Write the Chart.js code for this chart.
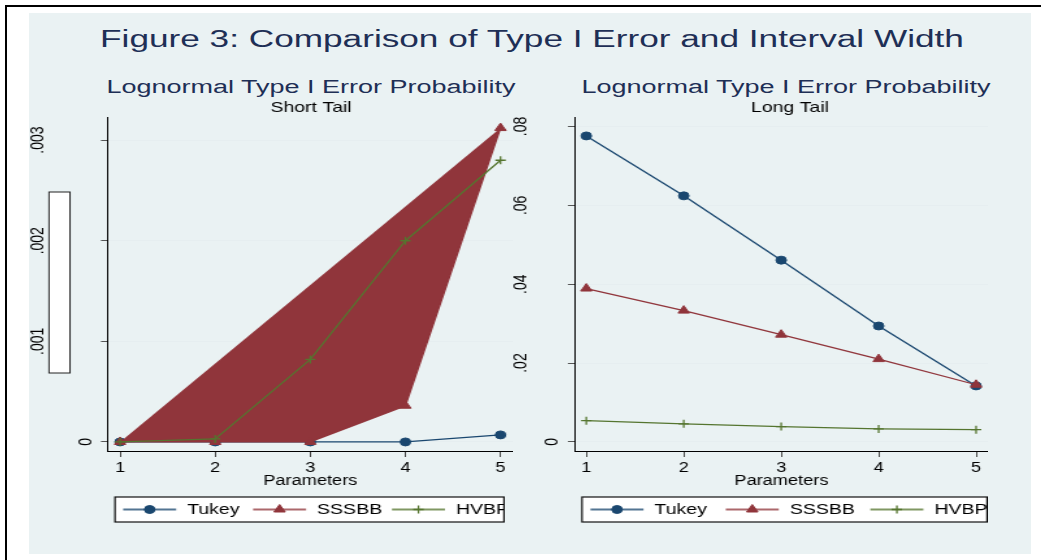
<!DOCTYPE html>
<html>
<head>
<meta charset="utf-8">
<script src="https://cdn.jsdelivr.net/npm/chart.js@4.4.1/dist/chart.umd.min.js"></script>
<style>
  html, body { margin: 0; padding: 0; background: #fff; }
  body { width: 1041px; height: 560px; position: relative; overflow: hidden; font-family: 'Liberation Sans', Arial, sans-serif; }
  .frame { position: absolute; left: 5px; top: 5px; right: 0; bottom: 0; border-left: 2px solid #000; border-top: 2px solid #000; }
  .bg { position: absolute; left: 29px; top: 13px; width: 1002px; height: 541px; background: #eaf2f3; }
  .title { position: absolute; white-space: nowrap; line-height: 1; color: #1e2f56; transform-origin: 50% 50%; }
  .main-title { left: 532px; top: 28px; font-size: 23px; transform: translateX(-50%) scaleX(1.53); }
  .sub-title { top: 78px; font-size: 18px; transform: translateX(-50%) scaleX(1.5); }
  .panel { position: absolute; top: 99px; transform: scaleX(1.3); transform-origin: 0 0; }
</style>
</head>
<body>
<div class="frame"></div>
<div class="bg"></div>
<div class="title main-title">Figure 3: Comparison of Type I Error and Interval Width</div>
<div class="title sub-title" style="left:311px">Lognormal Type I Error Probability</div>
<div class="title sub-title" style="left:786px">Lognormal Type I Error Probability</div>
<div class="panel" style="left:29px"><canvas id="shortChart" width="372" height="455"></canvas></div>
<div class="panel" style="left:512px"><canvas id="longChart" width="366" height="455"></canvas></div>

<script>
const parameters = [1, 2, 3, 4, 5];
const xTicks = [1, 2, 3, 4, 5];
const seriesNames = ['Tukey', 'SSSBB', 'HVBP'];

// Short tail
const shortTukey = [0, 0, 0, 0, 0.00007];
const shortSSSBB = [0, 0, 0, 0.00036, 0.00312];
const shortHVBP = [0, 0.00003, 0.00082, 0.002, 0.0028];
const shortYTicks = [0, 0.001, 0.002, 0.003];
const shortYLabels = ['0', '.001', '.002', '.003'];

// Long tail
const longTukey = [0.0776, 0.0624, 0.0461, 0.0294, 0.0142];
const longSSSBB = [0.0389, 0.0333, 0.0272, 0.0210, 0.0145];
const longHVBP = [0.0054, 0.0046, 0.0039, 0.0033, 0.0031];
const longYTicks = [0, 0.02, 0.04, 0.06, 0.08];
const longYLabels = ['0', '.02', '.04', '.06', '.08'];

const S = 1.3; // horizontal stretch applied to the panels
const FONT = "'Liberation Sans', Arial, sans-serif";
Chart.defaults.font.family = FONT;
Chart.defaults.color = '#000';

const colors = ['#1a476f', '#90353b', '#55752f'];
const markers = ['circle', 'triangle', 'cross'];
const radii = [4, 5, 4];

function makeDatasets(series, fillIndex) {
    return series.map((vals, i) => ({
        label: seriesNames[i],
        data: parameters.map((p, j) => ({ x: p, y: vals[j] })),
        borderColor: colors[i],
        backgroundColor: colors[i],
        borderWidth: 1.3,
        pointStyle: markers[i],
        pointRadius: radii[i],
        pointBorderWidth: i === 2 ? 1.3 : 1,
        pointBackgroundColor: colors[i],
        pointBorderColor: colors[i],
        tension: 0,
        fill: i === fillIndex ? 'shape' : false,
        order: 3 - i
    }));
}

// subtitle, rotated y labels, empty title box and the boxed legend
const decor = {
    id: 'decor',
    afterDraw(chart, args, o) {
        const ctx = chart.ctx;
        const area = chart.chartArea;
        const ix = x => (x - o.left) / S;
        ctx.save();
        ctx.fillStyle = '#000';
        ctx.textBaseline = 'middle';

        ctx.font = '15px ' + FONT;
        ctx.textAlign = 'center';
        ctx.fillText(o.subtitle, ix(o.subX), area.top - 9);

        const yScale = chart.scales.y;
        ctx.font = '14px ' + FONT;
        o.ticks.forEach((v, i) => {
            ctx.save();
            ctx.translate(ix(v === 0 ? o.zeroX : o.labelX), yScale.getPixelForValue(v));
            ctx.rotate(-Math.PI / 2);
            ctx.fillText(o.labels[i], 0, 0);
            ctx.restore();
        });

        if (o.box) {
            const b = o.box;
            ctx.fillStyle = '#fff';
            ctx.fillRect(ix(b.x1), b.y1, ix(b.x2) - ix(b.x1), b.y2 - b.y1);
            ctx.strokeStyle = '#222';
            ctx.lineWidth = 1;
            ctx.strokeRect(ix(b.x1), b.y1, ix(b.x2) - ix(b.x1), b.y2 - b.y1);
        }

        const lg = o.legend;
        const x1 = ix(lg.x1), x2 = ix(lg.x2), w = x2 - x1, h = lg.y2 - lg.y1;
        const cy = (lg.y1 + lg.y2) / 2;
        ctx.fillStyle = '#fff';
        ctx.fillRect(x1, lg.y1, w, h);
        ctx.save();
        ctx.beginPath();
        ctx.rect(x1, lg.y1, w, h);
        ctx.clip();
        ctx.font = '15px ' + FONT;
        ctx.textAlign = 'left';
        const starts = [0.021, 0.355, 0.712];
        const len = 53 / S;
        chart.data.datasets.forEach((ds, i) => {
            const lx = x1 + starts[i] * w;
            ctx.globalAlpha = 0.75;
            ctx.strokeStyle = ds.borderColor;
            ctx.lineWidth = 2;
            ctx.beginPath();
            ctx.moveTo(lx, cy);
            ctx.lineTo(lx + len, cy);
            ctx.stroke();
            ctx.globalAlpha = 1;
            ctx.fillStyle = ds.pointBackgroundColor;
            ctx.strokeStyle = ds.pointBorderColor;
            ctx.lineWidth = ds.pointBorderWidth;
            Chart.helpers.drawPoint(ctx, { pointStyle: ds.pointStyle, radius: ds.pointRadius, rotation: 0, borderWidth: ds.pointBorderWidth }, lx + len / 2, cy);
            ctx.fillStyle = '#000';
            ctx.fillText(ds.label, lx + len + 11 / S, cy);
        });
        ctx.restore();
        ctx.strokeStyle = '#111';
        ctx.lineWidth = 1.2;
        ctx.strokeRect(x1, lg.y1, w, h);
        ctx.restore();
    }
};

function makeChart(id, series, fillIndex, yMin, yMax, yTicks, xMin, xMax, yAxisWidth, decorOpts) {
    return new Chart(document.getElementById(id), {
        type: 'line',
        data: { datasets: makeDatasets(series, fillIndex) },
        options: {
            responsive: false,
            animation: false,
            events: [],
            layout: { padding: { top: 18, right: 0, left: 0, bottom: 0 }, autoPadding: false },
            plugins: {
                legend: { display: false },
                tooltip: { enabled: false },
                filler: { drawTime: 'beforeDatasetDraw' },
                decor: decorOpts
            },
            scales: {
                x: {
                    type: 'linear',
                    min: xMin,
                    max: xMax,
                    afterBuildTicks: s => { s.ticks = xTicks.map(v => ({ value: v })); },
                    afterFit: s => { s.height = 103; },
                    grid: { drawOnChartArea: false, drawTicks: true, tickLength: 6, tickColor: '#444' },
                    border: { display: true, color: '#000', width: 1 },
                    ticks: { font: { size: 14 }, padding: 3, callback: v => String(v) },
                    title: { display: true, text: 'Parameters', font: { size: 14 }, padding: { top: 0, bottom: 64.6 } }
                },
                y: {
                    type: 'linear',
                    min: yMin,
                    max: yMax,
                    afterBuildTicks: s => { s.ticks = yTicks.map(v => ({ value: v })); },
                    afterFit: s => { s.width = yAxisWidth; },
                    grid: { color: '#e6eef0', lineWidth: 1, drawTicks: true, tickLength: 5.4, tickColor: '#555' },
                    border: { display: true, color: '#000', width: 1 },
                    ticks: { display: false }
                }
            }
        },
        plugins: [decor]
    });
}

makeChart('shortChart', [shortTukey, shortSSSBB, shortHVBP], 1,
    -0.00009, 0.00323, shortYTicks, 0.873, 5.127, (108 - 29) / S, {
        left: 29, subtitle: 'Short Tail', subX: 311,
        ticks: shortYTicks, labels: shortYLabels, zeroX: 86.5, labelX: 38.5,
        box: { x1: 49, x2: 70, y1: 192 - 99, y2: 373 - 99 },
        legend: { x1: 115, x2: 504, y1: 497 - 99, y2: 522 - 99 }
    });

makeChart('longChart', [longTukey, longSSSBB, longHVBP], -1,
    -0.0023, 0.0824, longYTicks, 0.884, 5.12, (575 - 512) / S, {
        left: 512, subtitle: 'Long Tail', subX: 790,
        ticks: longYTicks, labels: longYLabels, zeroX: 553, labelX: 521.5,
        box: null,
        legend: { x1: 582, x2: 987, y1: 497 - 99, y2: 522 - 99 }
    });
</script>
</body>
</html>
